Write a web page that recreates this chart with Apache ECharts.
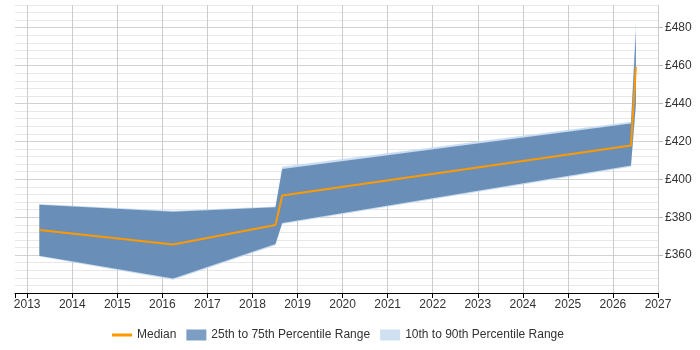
<!DOCTYPE html>
<html>
<head>
    <meta charset="utf-8">
    <title>Rate trend</title>
    <script src="https://cdn.jsdelivr.net/npm/echarts@6/dist/echarts.min.js"></script>
    <style>
        html, body { margin: 0; padding: 0; background: #fff; }
        #chart { width: 700px; height: 350px; }
    </style>
</head>
<body>
<div id="chart"></div>
<script type="text/javascript">
    // x positions (decimal years) of the points
    var years = [2013.27, 2016.24, 2018.51, 2018.66, 2026.40, 2026.51];
    // daily rate percentiles, £
    var median = [373.2, 365.6, 375.9, 391.4, 417.9, 459.3];
    var p25 = [359.6, 347.6, 365.8, 377.0, 407.3, 440];
    var p75 = [386.6, 382.9, 385.2, 405.5, 429.4, 478];
    var p10 = [359.2, 347.0, 365.2, 376.4, 406.6, 438];
    var p90 = [387.0, 383.4, 385.7, 406.6, 430.4, 484];
    var yearTicks = [2013, 2014, 2015, 2016, 2017, 2018, 2019, 2020, 2021, 2022, 2023, 2024, 2025, 2026, 2027];

    var font = 'Liberation Sans, Arial, sans-serif';
    var darkBand = 'rgba(90,130,175,0.86)';
    var lightBand = 'rgba(196,217,239,0.9)';

    function pairs(vals) {
        return years.map(function (x, i) { return [x, vals[i]]; });
    }

    // band between two percentile lists, drawn as one polygon on the axes' scale
    function bandRenderer(lo, hi, fill) {
        return function (params, api) {
            if (params.dataIndex !== 0) return;
            var pts = [];
            for (var i = 0; i < years.length; i++) pts.push(api.coord([years[i], hi[i]]));
            for (var j = years.length - 1; j >= 0; j--) pts.push(api.coord([years[j], lo[j]]));
            return {type: 'polygon', shape: {points: pts}, style: {fill: fill}, silent: true};
        };
    }

    var chart = echarts.init(document.getElementById('chart'));
    chart.setOption({
        animation: false,
        textStyle: {fontFamily: font},
        grid: {left: 15, right: 42, top: 5, bottom: 57},
        legend: {
            top: 324,
            left: 107,
            itemWidth: 20,
            itemHeight: 11,
            itemGap: 10,
            textStyle: {fontSize: 12, color: '#333', fontFamily: font},
            data: [
                {name: 'Median', icon: 'path://M0,0 H20 V3 H0 Z', itemStyle: {color: '#ff9900'}},
                {name: '25th to 75th Percentile Range', icon: 'rect', itemStyle: {color: '#7c9ec4'}},
                {name: '10th to 90th Percentile Range', icon: 'rect', itemStyle: {color: '#cfe0f0'}}
            ]
        },
        xAxis: {
            type: 'value',
            min: 2012.73,
            max: 2027,
            splitNumber: 14,
            minInterval: 1,
            maxInterval: 1,
            axisLine: {lineStyle: {color: '#000'}},
            axisTick: {length: 5, lineStyle: {color: '#000'}},
            axisLabel: {
                color: '#333', fontSize: 12, margin: 6,
                formatter: function (v) { return yearTicks.indexOf(v) >= 0 ? String(v) : ''; }
            },
            splitLine: {
                show: true,
                lineStyle: {color: ['rgba(0,0,0,0)'].concat(yearTicks.map(function () { return '#cccccc'; }))}
            }
        },
        yAxis: [
            {
                type: 'value',
                position: 'right',
                min: 340,
                max: 492,
                interval: 4,
                axisLine: {show: false},
                axisTick: {show: false},
                axisLabel: {show: false},
                splitLine: {lineStyle: {color: ['#d2d2d2', '#e8e8e8', '#e8e8e8', '#e8e8e8', '#e8e8e8']}}
            },
            {
                type: 'value',
                position: 'right',
                min: 340,
                max: 492,
                interval: 20,
                axisLine: {show: false},
                axisTick: {show: true, length: 5, lineStyle: {color: '#bbb'}},
                splitLine: {show: false},
                axisLabel: {
                    color: '#333', fontSize: 12, margin: 7,
                    showMinLabel: false, showMaxLabel: false,
                    formatter: function (v) { return '£' + v; }
                }
            }
        ],
        series: [
            {
                name: '10th to 90th Percentile Range', type: 'custom',
                data: pairs(p90), color: '#cfe0f0',
                renderItem: bandRenderer(p10, p90, lightBand)
            },
            {
                name: '25th to 75th Percentile Range', type: 'custom',
                data: pairs(p75), color: '#7c9ec4',
                renderItem: bandRenderer(p25, p75, darkBand)
            },
            {
                name: 'Median', type: 'line', data: pairs(median),
                symbol: 'none', color: '#ff9900', lineStyle: {width: 2, color: '#ff9900'}
            }
        ]
    });
</script>
</body>
</html>
